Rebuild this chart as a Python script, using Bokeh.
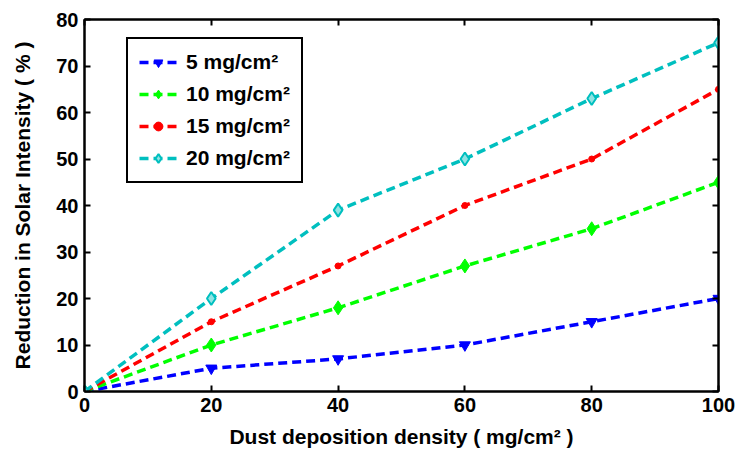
from bokeh.plotting import figure
from bokeh.models import Range1d, LinearAxis, FixedTicker, Legend, LegendItem, CustomJSTickFormatter
from bokeh.embed import file_html
from bokeh.resources import INLINE

# ---- data ----
density = [0, 20, 40, 60, 80, 100]
s5 = [0, 5, 7, 10, 15, 20]
s10 = [0, 10, 18, 27, 35, 45]
s15 = [0, 15, 27, 40, 50, 65]
s20 = [0, 20, 39, 50, 63, 75]
series_labels = ["5 mg/cm²", "10 mg/cm²", "15 mg/cm²", "20 mg/cm²"]
x_ticks = [0, 20, 40, 60, 80, 100]
y_ticks = [0, 10, 20, 30, 40, 50, 60, 70, 80]
x_title = "Dust deposition density ( mg/cm² )"
y_title = "Reduction in Solar Intensity ( % )"

FONT = "Liberation Sans"

p = figure(width=737, height=454, output_backend="svg", toolbar_location=None,
           x_range=Range1d(0, 100), y_range=Range1d(0, 80),
           min_border_left=84, min_border_right=19, min_border_top=19, min_border_bottom=63)
p.background_fill_color = "white"
p.border_fill_color = "white"
p.grid.visible = False
p.outline_line_color = "black"
p.outline_line_width = 2
p.outline_line_alpha = 1

def style_axis(ax, ticks, labels=True):
    ax.ticker = FixedTicker(ticks=ticks)
    ax.minor_tick_line_color = None
    ax.major_tick_in = 6
    ax.major_tick_out = 0
    ax.major_tick_line_width = 2
    ax.axis_line_width = 2
    ax.major_label_text_font = FONT
    ax.major_label_text_font_style = "bold"
    ax.major_label_text_color = "black"
    ax.major_label_text_font_size = "20px"
    if not labels:
        ax.formatter = CustomJSTickFormatter(code="return ''")
    ax.axis_label_text_font = FONT
    ax.axis_label_text_font_style = "bold"
    ax.axis_label_text_font_size = "21px"
    ax.axis_label_text_color = "black"

style_axis(p.xaxis[0], x_ticks)
style_axis(p.yaxis[0], y_ticks)
p.xaxis[0].axis_label = x_title
p.yaxis[0].axis_label = y_title
p.xaxis[0].major_label_standoff = 6
p.yaxis[0].major_label_standoff = 6
p.xaxis[0].axis_label_standoff = 10
p.yaxis[0].axis_label_standoff = 19

top = LinearAxis()
right = LinearAxis()
style_axis(top, x_ticks, labels=False)
style_axis(right, y_ticks, labels=False)
p.add_layout(top, "above")
p.add_layout(right, "right")

dash = "9 5"
lw = 3.5
items = []
r = p.line(density, s5, line_color="#0000ff", line_width=lw, line_dash=dash)
m = p.scatter(density, s5, marker="inverted_triangle", size=11, fill_color="#0000ff", line_color="#0000ff")
items.append(LegendItem(label=series_labels[0], renderers=[r, m]))
r = p.line(density, s10, line_color="#00ff00", line_width=lw, line_dash=dash)
m = p.scatter(density, s10, marker="diamond", size=14, fill_color="#00ff00", line_color="#00ff00")
items.append(LegendItem(label=series_labels[1], renderers=[r, m]))
r = p.line(density, s15, line_color="#ff0000", line_width=lw, line_dash=dash)
m = p.scatter(density, s15, marker="circle", size=6, fill_color="#ff0000", line_color="#ff0000")
items.append(LegendItem(label=series_labels[2], renderers=[r, m]))
r = p.line(density, s20, line_color="#00bfbf", line_width=lw, line_dash=dash)
m = p.scatter(density, s20, marker="diamond", size=13, fill_color="#8fe3e3", line_color="#00bfbf", line_width=2)
items.append(LegendItem(label=series_labels[3], renderers=[r, m]))

legend = Legend(items=items, location=(42, 208))
legend.border_line_color = "black"
legend.border_line_width = 2
legend.border_line_alpha = 1
legend.background_fill_color = "white"
legend.background_fill_alpha = 1
legend.label_text_font = FONT
legend.label_text_font_style = "bold"
legend.label_text_font_size = "21px"
legend.label_text_color = "black"
legend.glyph_width = 38
legend.glyph_height = 22
legend.label_height = 22
legend.label_standoff = 9
legend.spacing = 8
legend.padding = 11
legend.margin = 0
p.add_layout(legend, "center")

open("out.html", "w").write(file_html(p, INLINE))
